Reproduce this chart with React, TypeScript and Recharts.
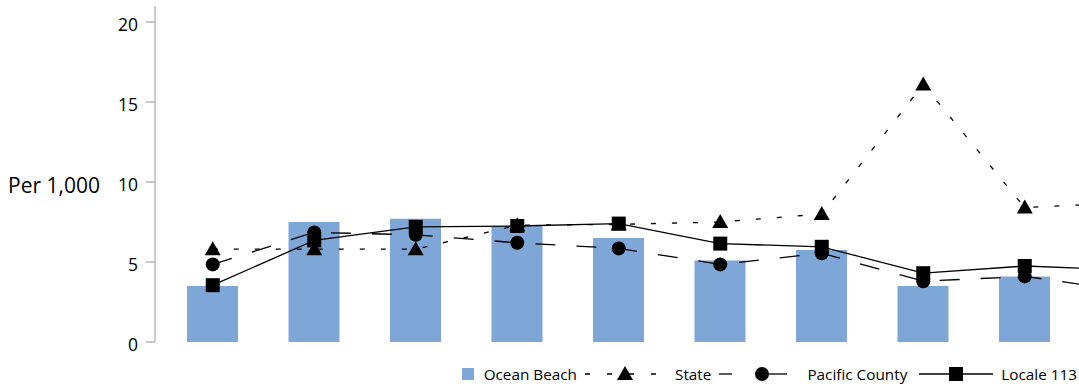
import { Bar, ComposedChart, Line, XAxis, YAxis } from "recharts";

// ten periods; the tenth sits past the right edge of the frame
const periods = ["1", "2", "3", "4", "5", "6", "7", "8", "9", "10"];
const oceanBeach = [3.5, 7.5, 7.7, 7.25, 6.5, 5.1, 5.75, 3.5, 4.1, null];
const state = [5.8, 5.8, 5.8, 7.3, 7.35, 7.5, 8.0, 16.1, 8.4, 8.7];
const pacificCounty = [4.85, 6.85, 6.7, 6.2, 5.85, 4.85, 5.55, 3.8, 4.1, 3.2];
const locale113 = [3.55, 6.35, 7.2, 7.25, 7.4, 6.15, 5.95, 4.3, 4.75, 4.5];
const yTicks = [0, 5, 10, 15, 20];

const data = periods.map((period, i) => ({
  period,
  oceanBeach: oceanBeach[i],
  state: state[i],
  pacificCounty: pacificCounty[i],
  locale113: locale113[i],
}));

const BAR_COLOR = "#7ea6d7";
const AXIS_COLOR = "#9a9a9a";
const FONT = "'Open Sans', sans-serif";

const Triangle = ({ cx, cy }: any) =>
  cx == null || cy == null ? null : (
    <path d={`M${cx},${cy - 8} L${cx + 8},${cy + 6} L${cx - 8},${cy + 6} Z`} fill="#000" />
  );

const Circle = ({ cx, cy }: any) =>
  cx == null || cy == null ? null : <circle cx={cx} cy={cy} r={7} fill="#000" />;

const Square = ({ cx, cy }: any) =>
  cx == null || cy == null ? null : <rect x={cx - 7} y={cy - 7} width={14} height={14} fill="#000" />;

function LegendRow() {
  const text = { fontSize: 15.3, color: "#000", whiteSpace: "nowrap" as const };
  return (
    <div
      style={{
        position: "absolute",
        right: 2,
        top: 364,
        display: "flex",
        alignItems: "center",
        fontFamily: FONT,
        height: 20,
      }}
    >
      <span style={{ width: 12, height: 12, background: BAR_COLOR, display: "inline-block" }} />
      <span style={{ ...text, marginLeft: 10 }}>Ocean Beach</span>
      <svg width={84} height={20} style={{ marginLeft: 6 }}>
        <line x1={2} y1={10} x2={74} y2={10} stroke="#000" strokeWidth={1.3} strokeDasharray="5 17" />
        <path d="M42,2 L50,16 L34,16 Z" fill="#000" />
      </svg>
      <span style={{ ...text, marginLeft: 8 }}>State</span>
      <svg width={86} height={20} style={{ marginLeft: 8 }}>
        <line x1={0} y1={10} x2={13} y2={10} stroke="#000" strokeWidth={1.3} />
        <line x1={50} y1={10} x2={68} y2={10} stroke="#000" strokeWidth={1.3} />
        <circle cx={43} cy={10} r={7} fill="#000" />
      </svg>
      <span style={{ ...text, marginLeft: 2 }}>Pacific County</span>
      <svg width={74} height={20} style={{ marginLeft: 12 }}>
        <line x1={0} y1={10} x2={74} y2={10} stroke="#000" strokeWidth={1.3} />
        <rect x={30} y={3} width={14} height={14} fill="#000" />
      </svg>
      <span style={{ ...text, marginLeft: 8 }}>Locale 113</span>
    </div>
  );
}

export default function App() {
  return (
    <div
      style={{
        position: "absolute",
        left: 0,
        top: 0,
        width: 1079,
        height: 386,
        overflow: "hidden",
        background: "#fff",
      }}
    >
      <ComposedChart
        width={1177}
        height={386}
        data={data}
        margin={{ top: 6, right: 0, bottom: 44, left: 0 }}
      >
        <XAxis dataKey="period" hide padding={{ left: 7, right: 0 }} />
        <YAxis
          width={155}
          domain={[0, 21]}
          ticks={yTicks}
          interval={0}
          stroke={AXIS_COLOR}
          tickSize={9}
          tickMargin={8}
          tick={{ fill: "#000", fontSize: 17.5, fontFamily: FONT, dy: 3 }}
          label={{
            value: "Per 1,000",
            position: "insideLeft",
            offset: 8,
            dy: 12,
            fill: "#000",
            fontSize: 21,
            fontFamily: FONT,
          }}
        />
        <Bar dataKey="oceanBeach" fill={BAR_COLOR} barSize={51} isAnimationActive={false} />
        <Line
          dataKey="state"
          type="linear"
          stroke="#000"
          strokeWidth={1.3}
          strokeDasharray="5 16"
          dot={<Triangle />}
          activeDot={false}
          isAnimationActive={false}
        />
        <Line
          dataKey="pacificCounty"
          type="linear"
          stroke="#000"
          strokeWidth={1.3}
          strokeDasharray="20 21"
          dot={<Circle />}
          activeDot={false}
          isAnimationActive={false}
        />
        <Line
          dataKey="locale113"
          type="linear"
          stroke="#000"
          strokeWidth={1.3}
          dot={<Square />}
          activeDot={false}
          isAnimationActive={false}
        />
      </ComposedChart>
      <LegendRow />
    </div>
  );
}
